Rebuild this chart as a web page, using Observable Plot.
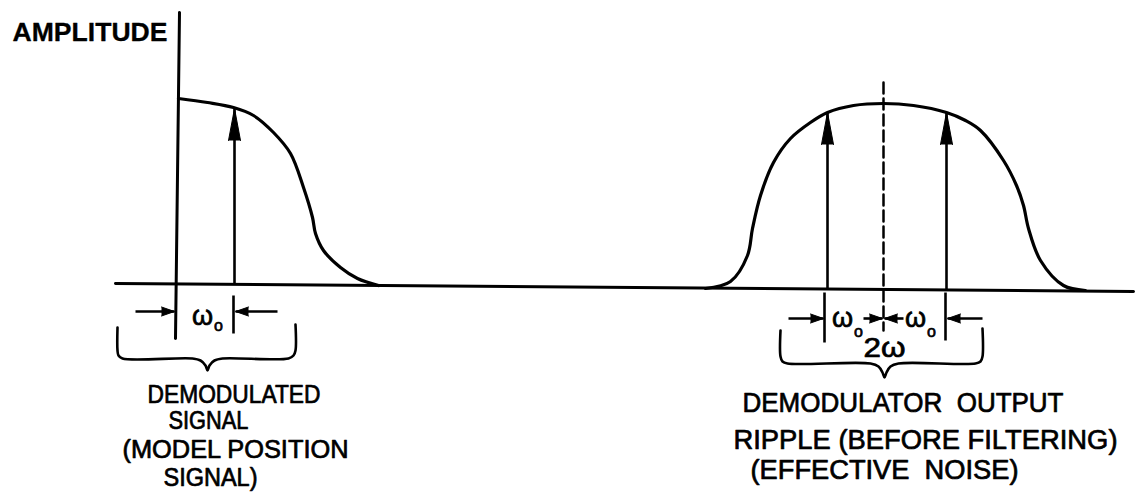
<!DOCTYPE html>
<html><head><meta charset="utf-8">
<script src="https://cdn.jsdelivr.net/npm/d3@7"></script>
<script src="https://cdn.jsdelivr.net/npm/@observablehq/plot@0.6"></script>
<style>html,body{margin:0;padding:0;background:#fff}</style>
</head><body><div id="chart"></div>
<script>
// ---- data (frequency f, amplitude a in diagram units) ----
const baselineF = [-63, 955];
const baselineA = [2, -6];
const axisF = [1, -3];
const axisA = [273, -53];

// demodulated signal spectrum (left)
const demodF = [0, 29, 55, 75, 95, 112, 125, 134, 137, 145, 162, 179, 200];
const demodA = [187, 183, 178, 170, 153, 132, 98, 68, 52, 35, 18, 7, 0];

// demodulator output ripple spectrum (right)
const rippleF = [527, 552, 569, 574, 582, 595, 612, 632, 649, 675, 705, 735, 768, 787, 802, 825, 838, 845, 850, 862, 885, 907];
const rippleA = [-3, 4, 30, 57, 90, 123, 147, 163, 173, 180, 182, 180, 173, 165, 155, 125, 100, 80, 57, 25, 0, -5];

// spectral lines (carrier components)
const lineF = [56, 649, 768];
const lineBase = [2, -3, -4];
const lineTip = [177, 173, 173];

// centre frequency (dashed)
const centerF = [705, 705];
const centerA = [203, -45];

// extension ticks below baseline
const tickF = [55, 646, 767];
const tickTop = [-10, -7, -7];
const tickBottom = [-48, -57, -55];

// dimension arrows
const dimFrom = [-43, 99, 610, 685, 725, 804];
const dimTo = [-4, 57, 645, 704, 706, 769];
const dimA = [-26, -26, -33, -33, -33, -33];

// braces
const braceLF = [-61, -61, -60, -56, 14, 22, 27, 29, 31, 36, 44, 110, 115, 117, 117];
const braceLA = [-42, -65, -70, -73, -73, -75, -80, -85, -80, -75, -73, -73, -70, -65, -39];
const braceRF = [602, 602, 604, 609, 692, 700, 704, 706, 708, 712, 720, 797, 802, 804, 804];
const braceRA = [-45, -71, -76, -78, -78, -81, -87, -92, -87, -81, -78, -78, -76, -71, -43];

// labels
const axisLabel = ["AMPLITUDE"];
const axisLabelF = [-88.5];
const axisLabelA = [252.5];
const leftLines = ["DEMODULATED", "SIGNAL", "(MODEL POSITION", "SIGNAL)"];
const leftLinesF = [55.5, 30, 57, 32];
const leftLinesA = [-109, -135, -164, -192.5];
const rightLines = ["DEMODULATOR  OUTPUT", "RIPPLE (BEFORE FILTERING)", "(EFFECTIVE  NOISE)"];
const rightLinesF = [724.5, 747, 706];
const rightLinesA = [-118, -155, -185];
const omegaText = ["ω", "ω", "ω", "2ω"];
const omegaF = [24, 664, 737, 706];
const omegaA = [-31, -33, -33, -63];
const subF = [40, 680, 753];
const subA = [-40, -46, -46];

// ---- styling (fitted text widths in px) ----
const textWidths = {
  "AMPLITUDE": 155, "DEMODULATED": 173, "SIGNAL": 80, "(MODEL POSITION": 226, "SIGNAL)": 94,
  "DEMODULATOR  OUTPUT": 321, "RIPPLE (BEFORE FILTERING)": 384, "(EFFECTIVE  NOISE)": 268, "2ω": 42
};

const pts = (F, A) => F.map((f, i) => ({f, a: A[i]}));
const idx = n => d3.range(n);
const ink = {fill: "black", stroke: "black", lineAnchor: "middle"};

const chart = Plot.plot({
  width: 1136,
  height: 503,
  margin: 0,
  x: {domain: [-178, 958], axis: null},
  y: {domain: [-218, 285], axis: null},
  style: {background: "white", color: "black", fontFamily: "'Liberation Sans', Arial, sans-serif"},
  marks: [
    Plot.line(pts(baselineF, baselineA), {x: "f", y: "a", stroke: "black", strokeWidth: 3}),
    Plot.line(pts(axisF, axisA), {x: "f", y: "a", stroke: "black", strokeWidth: 3}),
    Plot.line(pts(demodF, demodA), {x: "f", y: "a", stroke: "black", strokeWidth: 3.2, curve: "catmull-rom"}),
    Plot.line(pts(rippleF, rippleA), {x: "f", y: "a", stroke: "black", strokeWidth: 3.2, curve: "catmull-rom"}),
    Plot.line(pts(centerF, centerA), {x: "f", y: "a", stroke: "black", strokeWidth: 2.5, strokeDasharray: "11,5"}),
    Plot.link(idx(lineF.length), {x1: i => lineF[i], x2: i => lineF[i], y1: i => lineBase[i], y2: i => lineTip[i], stroke: "black", strokeWidth: 2.6}),
    Plot.vector(idx(lineF.length), {x: i => lineF[i], y: i => lineTip[i], length: 32, r: 6, rotate: 0, anchor: "end", shape: "spike", fill: "black", stroke: "black", strokeWidth: 1}),
    Plot.link(idx(tickF.length), {x1: i => tickF[i], x2: i => tickF[i], y1: i => tickTop[i], y2: i => tickBottom[i], stroke: "black", strokeWidth: 2.6}),
    Plot.link(idx(dimFrom.length), {x1: i => dimFrom[i], x2: i => dimTo[i], y1: i => dimA[i], y2: i => dimA[i], stroke: "black", strokeWidth: 2.6}),
    Plot.vector(idx(dimTo.length), {x: i => dimTo[i], y: i => dimA[i], length: 13, r: 4.5, rotate: i => dimTo[i] > dimFrom[i] ? 90 : -90, anchor: "end", shape: "spike", fill: "black", stroke: "black", strokeWidth: 1}),
    Plot.line(pts(braceLF, braceLA), {x: "f", y: "a", stroke: "black", strokeWidth: 2.6, curve: "catmull-rom"}),
    Plot.line(pts(braceRF, braceRA), {x: "f", y: "a", stroke: "black", strokeWidth: 2.6, curve: "catmull-rom"}),
    Plot.text(idx(1), {x: i => axisLabelF[i], y: i => axisLabelA[i], text: i => axisLabel[i], fontSize: 26, fontWeight: "bold", strokeWidth: 0.3, ...ink}),
    Plot.text(idx(leftLines.length), {x: i => leftLinesF[i], y: i => leftLinesA[i], text: i => leftLines[i], fontSize: 25, strokeWidth: 0.7, ...ink}),
    Plot.text(idx(rightLines.length), {x: i => rightLinesF[i], y: i => rightLinesA[i], text: i => rightLines[i], fontSize: 27, strokeWidth: 0.7, ...ink}),
    Plot.text(idx(omegaText.length), {x: i => omegaF[i], y: i => omegaA[i], text: i => omegaText[i], fontSize: 27, strokeWidth: 0.7, ...ink}),
    Plot.text(idx(subF.length), {x: i => subF[i], y: i => subA[i], text: () => "o", fontSize: 16, strokeWidth: 0.7, ...ink})
  ]
});

d3.select(chart).selectAll("text").each(function() {
  const w = textWidths[this.textContent];
  if (w) {
    this.setAttribute("textLength", w);
    this.setAttribute("lengthAdjust", "spacingAndGlyphs");
    this.style.whiteSpace = "pre";
  }
});
document.getElementById("chart").appendChild(chart);
</script>
</body></html>
